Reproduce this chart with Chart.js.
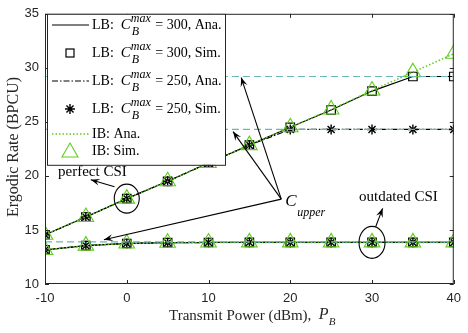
<!DOCTYPE html>
<html>
<head>
<meta charset="utf-8">
<script src="https://cdn.jsdelivr.net/npm/chart.js@4"></script>
<style>
  html, body { margin: 0; padding: 0; background: #fff; }
  #wrap { width: 468px; height: 333px; }
</style>
</head>
<body>
<div id="wrap"><canvas id="rateChart" width="468" height="333"></canvas></div>
<script>
// === Data ===
const powerDbm = [-10, -5, 0, 5, 10, 15, 20, 25, 30, 35, 40];

// perfect CSI
const perfectLb300 = [14.55, 16.2, 17.9, 19.5, 21.2, 22.85, 24.5, 26.1, 27.85, 29.2, 29.2];
const perfectLb250 = [14.55, 16.2, 17.9, 19.5, 21.2, 22.85, 24.3, 24.3, 24.3, 24.3, 24.3];
const perfectIb    = [14.55, 16.2, 17.9, 19.5, 21.2, 22.85, 24.5, 26.15, 27.9, 29.6, 31.3];

// outdated CSI (all bounds coincide)
const outdatedLb300 = [13.15, 13.55, 13.75, 13.82, 13.84, 13.85, 13.85, 13.85, 13.85, 13.85, 13.85];
const outdatedLb250 = [13.15, 13.55, 13.75, 13.82, 13.84, 13.85, 13.85, 13.85, 13.85, 13.85, 13.85];
const outdatedIb    = [13.15, 13.55, 13.75, 13.82, 13.84, 13.85, 13.85, 13.85, 13.85, 13.85, 13.85];

// C_upper levels
const upperLevels = [29.2, 24.3, 13.9];

const yTicks = [10, 15, 20, 25, 30, 35];
const xTicks = [-10, 0, 10, 20, 30, 40];

const GREEN = '#5fcc1f';
const TEAL = '#6ab7b7';
const SERIF = '"Liberation Serif", "Times New Roman", serif';
const SANS = '"Liberation Sans", Arial, sans-serif';

const pts = (ys) => powerDbm.map((x, i) => ({ x, y: ys[i] }));

function lineSet(ys, style) {
    return Object.assign({
        data: pts(ys), showLine: true, pointRadius: 0, fill: false,
        borderWidth: 1.2, borderColor: '#000', tension: 0
    }, style);
}
function markSet(ys, style) {
    return Object.assign({
        data: pts(ys), showLine: false, borderWidth: 1, backgroundColor: 'rgba(0,0,0,0)'
    }, style);
}

const datasets = [];
upperLevels.forEach(v => {
    datasets.push(lineSet([v, v], {
        data: [{ x: -10, y: v }, { x: 40, y: v }],
        borderColor: TEAL, borderWidth: 1.2, borderDash: [7, 4]
    }));
});
[[perfectLb300, perfectLb250, perfectIb], [outdatedLb300, outdatedLb250, outdatedIb]].forEach(([lb300, lb250, ib]) => {
    datasets.push(lineSet(ib, { borderColor: GREEN, borderDash: [1.5, 2], borderWidth: 1.5 }));
    datasets.push(markSet(ib, { pointStyle: 'triangle', pointRadius: 9, borderColor: GREEN, borderWidth: 1.1 }));
    datasets.push(lineSet(lb250, { borderDash: [6, 2, 1.5, 2] }));
    datasets.push(lineSet(lb300, {}));
    datasets.push(markSet(lb300, { pointStyle: 'rect', pointRadius: 6, borderColor: '#000', borderWidth: 1.2 }));
    datasets.push(markSet(lb250, { pointStyle: 'star', pointRadius: 5, borderColor: '#000', borderWidth: 1.4 }));
});

// draw C^max_B style label
function drawCmax(ctx, x, y, prefix, suffix) {
    ctx.font = '14px ' + SERIF;
    ctx.fillText(prefix, x, y);
    x += ctx.measureText(prefix).width;
    ctx.font = 'italic 15px ' + SERIF;
    ctx.fillText('C', x, y);
    x += ctx.measureText('C').width;
    ctx.font = 'italic 12px ' + SERIF;
    ctx.fillText('max', x, y - 6);
    ctx.fillText('B', x + 1, y + 7);
    x += ctx.measureText('max').width + 1;
    ctx.font = '14px ' + SERIF;
    ctx.fillText(suffix, x, y);
}

function arrow(ctx, x1, y1, x2, y2) {
    ctx.beginPath();
    ctx.moveTo(x1, y1);
    ctx.lineTo(x2, y2);
    ctx.stroke();
    const a = Math.atan2(y2 - y1, x2 - x1);
    const L = 9, W = 3.5;
    ctx.beginPath();
    ctx.moveTo(x2, y2);
    ctx.lineTo(x2 - L * Math.cos(a) + W * Math.sin(a), y2 - L * Math.sin(a) - W * Math.cos(a));
    ctx.lineTo(x2 - 0.6 * L * Math.cos(a), y2 - 0.6 * L * Math.sin(a));
    ctx.lineTo(x2 - L * Math.cos(a) - W * Math.sin(a), y2 - L * Math.sin(a) + W * Math.cos(a));
    ctx.closePath();
    ctx.fill();
}

const decorations = {
    id: 'decorations',
    afterDatasetsDraw(chart) {
        const { ctx, chartArea: a, scales: { x, y } } = chart;
        const px = v => x.getPixelForValue(v);
        const py = v => y.getPixelForValue(v);
        ctx.save();

        // box and inward ticks
        ctx.strokeStyle = '#262626';
        ctx.lineWidth = 1;
        ctx.strokeRect(a.left + 0.5, a.top + 0.5, a.right - a.left - 1, a.bottom - a.top - 1);
        ctx.beginPath();
        yTicks.forEach(t => {
            const p = Math.round(py(t)) + 0.5;
            ctx.moveTo(a.left, p); ctx.lineTo(a.left + 4, p);
            ctx.moveTo(a.right, p); ctx.lineTo(a.right - 4, p);
        });
        xTicks.forEach(t => {
            const p = Math.round(px(t)) + 0.5;
            ctx.moveTo(p, a.bottom); ctx.lineTo(p, a.bottom - 4);
            ctx.moveTo(p, a.top); ctx.lineTo(p, a.top + 4);
        });
        ctx.stroke();

        // annotations
        ctx.strokeStyle = '#000';
        ctx.fillStyle = '#000';
        ctx.lineWidth = 1.1;
        // C_upper arrows
        const cx = px(18.9), cy = py(17.85);
        arrow(ctx, cx, cy, px(14.0), py(29.1));
        arrow(ctx, cx, cy, px(13.0), py(24.1));
        arrow(ctx, cx, cy, px(-2.8), py(14.1));
        ctx.font = 'italic 17px ' + SERIF;
        ctx.textBaseline = 'alphabetic';
        ctx.fillText('C', cx + 4, cy + 7);
        ctx.font = 'italic 12px ' + SERIF;
        ctx.fillText('upper', cx + 16, cy + 17);

        // perfect CSI
        ctx.beginPath();
        ctx.ellipse(px(0), py(17.9), 12.5, 14.5, 0, 0, Math.PI * 2);
        ctx.stroke();
        arrow(ctx, px(-1.5), py(19.0), px(-4.4), py(19.65));
        ctx.font = '15px ' + SERIF;
        ctx.textBaseline = 'middle';
        ctx.fillText('perfect CSI', 58, 172);

        // outdated CSI
        ctx.beginPath();
        ctx.ellipse(px(30), py(13.85), 13, 16, 0, 0, Math.PI * 2);
        ctx.stroke();
        arrow(ctx, px(30.45), py(15.3), px(31.3), py(17.0));
        ctx.fillText('outdated CSI', 359, 197);

        // legend
        const lx = a.left + 2, ly = a.top, lw = 178, lh = 151;
        ctx.fillStyle = '#fff';
        ctx.fillRect(lx, ly, lw, lh);
        ctx.strokeStyle = '#262626';
        ctx.lineWidth = 1;
        ctx.strokeRect(lx + 0.5, ly + 0.5, lw, lh);
        ctx.fillStyle = '#000';
        ctx.strokeStyle = '#000';
        const rows = [25, 53, 81, 109, 134, 151];
        const mx = 70, tx = 92;
        ctx.lineWidth = 1.2;
        ctx.beginPath(); ctx.moveTo(52, rows[0]); ctx.lineTo(89, rows[0]); ctx.stroke();
        ctx.strokeRect(mx - 4, rows[1] - 4, 8, 8);
        ctx.setLineDash([6, 2, 1.5, 2]);
        ctx.beginPath(); ctx.moveTo(52, rows[2]); ctx.lineTo(89, rows[2]); ctx.stroke();
        ctx.setLineDash([]);
        ctx.lineWidth = 1.4;
        ctx.beginPath();
        for (let k = 0; k < 4; k++) {
            const ang = k * Math.PI / 4;
            ctx.moveTo(mx - 5 * Math.cos(ang), rows[3] - 5 * Math.sin(ang));
            ctx.lineTo(mx + 5 * Math.cos(ang), rows[3] + 5 * Math.sin(ang));
        }
        ctx.stroke();
        ctx.strokeStyle = GREEN;
        ctx.lineWidth = 1.5;
        ctx.setLineDash([1.5, 2]);
        ctx.beginPath(); ctx.moveTo(52, rows[4]); ctx.lineTo(89, rows[4]); ctx.stroke();
        ctx.setLineDash([]);
        ctx.lineWidth = 1.1;
        ctx.beginPath();
        ctx.moveTo(mx, rows[5] - 8); ctx.lineTo(mx + 8, rows[5] + 6); ctx.lineTo(mx - 8, rows[5] + 6);
        ctx.closePath(); ctx.stroke();

        ctx.textBaseline = 'middle';
        drawCmax(ctx, tx, rows[0], 'LB:  ', ' = 300, Ana.');
        drawCmax(ctx, tx, rows[1], 'LB:  ', ' = 300, Sim.');
        drawCmax(ctx, tx, rows[2], 'LB:  ', ' = 250, Ana.');
        drawCmax(ctx, tx, rows[3], 'LB:  ', ' = 250, Sim.');
        ctx.font = '14px ' + SERIF;
        ctx.fillText('IB: Ana.', tx, rows[4]);
        ctx.fillText('IB: Sim.', tx, rows[5]);

        // axis titles
        ctx.fillStyle = '#262626';
        ctx.font = '15px ' + SERIF;
        ctx.textBaseline = 'middle';
        const xt = 'Transmit Power (dBm),  ';
        const w = ctx.measureText(xt).width;
        const x0 = 169;
        ctx.fillText(xt, x0, 316);
        ctx.font = 'italic 16px ' + SERIF;
        ctx.fillText('P', x0 + w, 315);
        ctx.font = 'italic 11px ' + SERIF;
        ctx.fillText('B', x0 + w + 10, 322);

        ctx.translate(14, 147);
        ctx.rotate(-Math.PI / 2);
        ctx.textAlign = 'center';
        ctx.font = '16px ' + SERIF;
        ctx.fillText('Ergodic Rate (BPCU)', 0, 0);
        ctx.restore();
    }
};

new Chart(document.getElementById('rateChart').getContext('2d'), {
    type: 'scatter',
    data: { datasets },
    options: {
        responsive: false,
        animation: false,
        devicePixelRatio: 1,
        layout: { padding: { left: 0, right: 6, top: 10, bottom: 0 } },
        plugins: { legend: { display: false }, tooltip: { enabled: false } },
        scales: {
            x: {
                type: 'linear', min: -10, max: 40,
                afterBuildTicks: s => { s.ticks = xTicks.map(v => ({ value: v })); },
                afterFit: s => { s.height = 49; },
                grid: { display: false, drawTicks: false },
                border: { display: false },
                ticks: { color: '#262626', font: { family: SANS, size: 13 }, padding: 7, maxRotation: 0 }
            },
            y: {
                type: 'linear', min: 10, max: 35,
                afterBuildTicks: s => { s.ticks = yTicks.map(v => ({ value: v })); },
                afterFit: s => { s.width = 45; },
                grid: { display: false, drawTicks: false },
                border: { display: false },
                ticks: { color: '#262626', font: { family: SANS, size: 13 }, padding: 6 }
            }
        }
    },
    plugins: [decorations]
});
</script>
</body>
</html>
